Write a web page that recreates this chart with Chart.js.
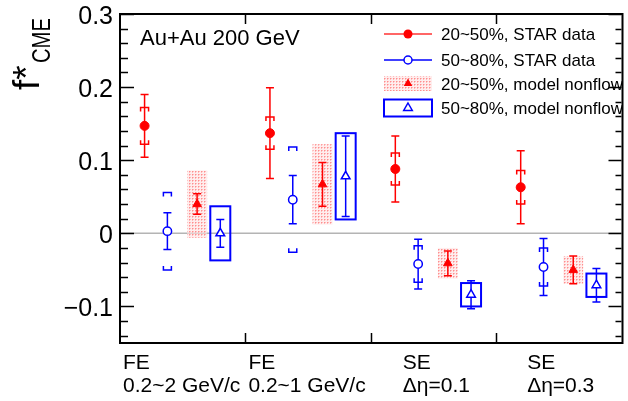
<!DOCTYPE html>
<html>
<head>
<meta charset="utf-8">
<script src="https://cdn.jsdelivr.net/npm/chart.js@4.4.1/dist/chart.umd.min.js"></script>
<style>
  html, body { margin: 0; padding: 0; background: #fff; }
  canvas { display: block; }
</style>
</head>
<body>
<canvas id="chart" width="628" height="401"></canvas>
<script>
// Categories (two text lines each)
const catTop = ['FE', 'FE', 'SE', 'SE'];
const catBottom = ['0.2~2 GeV/c', '0.2~1 GeV/c', 'Δη=0.1', 'Δη=0.3'];

// 20~50%, STAR data (value, stat error, sys error)
const starMid = [0.147, 0.137, 0.088, 0.063];
const starMidStat = [0.043, 0.062, 0.045, 0.050];
const starMidSys = [0.025, 0.022, 0.022, 0.023];

// 50~80%, STAR data
const starPer = [0.003, 0.046, -0.042, -0.046];
const starPerStat = [0.025, 0.033, 0.034, 0.039];
const starPerSys = [0.053, 0.072, 0.025, 0.026];

// 20~50%, model nonflow
const modelMid = [0.040, 0.067, -0.041, -0.050];
const modelMidStat = [0.014, 0.030, 0.017, 0.019];
const modelMidSys = [0.046, 0.055, 0.021, 0.019];

// 50~80%, model nonflow
const modelPer = [0.000, 0.078, -0.084, -0.071];
const modelPerStat = [0.019, 0.055, 0.019, 0.023];
const modelPerSys = [0.037, 0.059, 0.016, 0.016];

const yTicks = [-0.1, 0, 0.1, 0.2, 0.3];
const yTickLabels = ['−0.1', '0', '0.1', '0.2', '0.3'];
const legendLabels = ['20~50%, STAR data', '50~80%, STAR data', '20~50%, model nonflow', '50~80%, model nonflow'];

// where each series sits inside its category slot
const slot = [0.196, 0.378, 0.615, 0.8];
const labelShift = [3, 3, 32, 31];

const RED = '#ff0000';
const BLUE = '#0000ff';
const FONT = '"Liberation Sans", Arial, sans-serif';

function toPoints(vals, k) {
  return vals.map((v, i) => ({ x: i + slot[k], y: v }));
}

// dotted pink fill like ROOT's fill style
function pinkPattern(ctx) {
  const c = document.createElement('canvas');
  c.width = 3; c.height = 3;
  const g = c.getContext('2d');
  g.fillStyle = 'rgba(255,225,225,0.6)';
  g.fillRect(0, 0, 3, 3);
  g.fillStyle = 'rgba(255,110,110,0.75)';
  g.fillRect(0, 0, 1, 1);
  g.fillStyle = 'rgba(255,170,170,0.7)';
  g.fillRect(0, 1, 1, 1);
  g.fillRect(1, 0, 1, 1);
  return ctx.createPattern(c, 'repeat');
}

function statBar(ctx, x, y1, y2, color) {
  ctx.strokeStyle = color;
  ctx.lineWidth = 1.5;
  ctx.beginPath();
  ctx.moveTo(x, y1); ctx.lineTo(x, y2);
  ctx.moveTo(x - 4, y1); ctx.lineTo(x + 4, y1);
  ctx.moveTo(x - 4, y2); ctx.lineTo(x + 4, y2);
  ctx.stroke();
}

function sysBrackets(ctx, x, yTop, yBot, color) {
  ctx.strokeStyle = color;
  ctx.lineWidth = 1.5;
  ctx.beginPath();
  ctx.moveTo(x - 4, yTop + 4); ctx.lineTo(x - 4, yTop); ctx.lineTo(x + 4, yTop); ctx.lineTo(x + 4, yTop + 4);
  ctx.moveTo(x - 4, yBot - 4); ctx.lineTo(x - 4, yBot); ctx.lineTo(x + 4, yBot); ctx.lineTo(x + 4, yBot - 4);
  ctx.stroke();
}

// zero line, sys boxes and error bars go under the markers
const errorPlugin = {
  id: 'errors',
  beforeDatasetsDraw(chart) {
    const ctx = chart.ctx;
    const xs = chart.scales.x, ys = chart.scales.y;
    const a = chart.chartArea;
    ctx.save();
    ctx.strokeStyle = '#b4b4b4';
    ctx.lineWidth = 1.5;
    ctx.beginPath();
    ctx.moveTo(a.left, ys.getPixelForValue(0));
    ctx.lineTo(a.right, ys.getPixelForValue(0));
    ctx.stroke();

    const pat = pinkPattern(ctx);
    for (let i = 0; i < catTop.length; i++) {
      // model boxes
      let x = xs.getPixelForValue(i + slot[2]);
      let t = ys.getPixelForValue(modelMid[i] + modelMidSys[i]);
      let b = ys.getPixelForValue(modelMid[i] - modelMidSys[i]);
      ctx.fillStyle = pat;
      ctx.fillRect(x - 10, t, 20, b - t);

      x = xs.getPixelForValue(i + slot[3]);
      t = ys.getPixelForValue(modelPer[i] + modelPerSys[i]);
      b = ys.getPixelForValue(modelPer[i] - modelPerSys[i]);
      ctx.strokeStyle = BLUE;
      ctx.lineWidth = 2;
      ctx.strokeRect(x - 10, t, 20, b - t);

      // STAR data
      x = xs.getPixelForValue(i + slot[0]);
      statBar(ctx, x, ys.getPixelForValue(starMid[i] + starMidStat[i]), ys.getPixelForValue(starMid[i] - starMidStat[i]), RED);
      sysBrackets(ctx, x, ys.getPixelForValue(starMid[i] + starMidSys[i]), ys.getPixelForValue(starMid[i] - starMidSys[i]), RED);

      x = xs.getPixelForValue(i + slot[1]);
      statBar(ctx, x, ys.getPixelForValue(starPer[i] + starPerStat[i]), ys.getPixelForValue(starPer[i] - starPerStat[i]), BLUE);
      sysBrackets(ctx, x, ys.getPixelForValue(starPer[i] + starPerSys[i]), ys.getPixelForValue(starPer[i] - starPerSys[i]), BLUE);

      x = xs.getPixelForValue(i + slot[2]);
      statBar(ctx, x, ys.getPixelForValue(modelMid[i] + modelMidStat[i]), ys.getPixelForValue(modelMid[i] - modelMidStat[i]), RED);

      x = xs.getPixelForValue(i + slot[3]);
      statBar(ctx, x, ys.getPixelForValue(modelPer[i] + modelPerStat[i]), ys.getPixelForValue(modelPer[i] - modelPerStat[i]), BLUE);
    }
    ctx.restore();
  }
};

// frame, ticks, labels, title and legend drawn by hand (ROOT look)
const framePlugin = {
  id: 'frame',
  afterDraw(chart) {
    const ctx = chart.ctx;
    const xs = chart.scales.x, ys = chart.scales.y;
    const a = chart.chartArea;
    ctx.save();

    // y ticks, every 0.02
    ctx.strokeStyle = '#000';
    ctx.lineWidth = 1.5;
    ctx.beginPath();
    for (let k = -7; k <= 15; k++) {
      const y = Math.round(ys.getPixelForValue(k * 0.02)) + 0.5;
      const len = k % 5 === 0 ? 14 : 8;
      ctx.moveTo(a.left, y); ctx.lineTo(a.left + len, y);
      ctx.moveTo(a.right, y); ctx.lineTo(a.right - (k % 5 === 0 ? 13 : 6), y);
    }
    // x ticks at category borders
    for (let i = 1; i < catTop.length; i++) {
      const x = Math.round(xs.getPixelForValue(i)) + 0.5;
      ctx.moveTo(x, a.bottom); ctx.lineTo(x, a.bottom - 10);
      ctx.moveTo(x, a.top); ctx.lineTo(x, a.top + 10);
    }
    ctx.stroke();

    // frame
    ctx.lineWidth = 2;
    ctx.strokeRect(a.left, a.top, a.right + 1 - a.left, a.bottom - a.top);

    // y tick labels
    ctx.fillStyle = '#000';
    ctx.font = '25px ' + FONT;
    ctx.textAlign = 'right';
    ctx.textBaseline = 'alphabetic';
    yTicks.forEach((v, i) => {
      ctx.fillText(yTickLabels[i], 113, ys.getPixelForValue(v) + 9.5);
    });

    // category labels
    ctx.font = '21px ' + FONT;
    ctx.textAlign = 'left';
    for (let i = 0; i < catTop.length; i++) {
      const x = xs.getPixelForValue(i) + labelShift[i];
      ctx.fillText(catTop[i], x, 369);
      ctx.fillText(catBottom[i], x, 392);
    }

    // y title f*_CME
    ctx.save();
    ctx.translate(39, 90);
    ctx.rotate(-Math.PI / 2);
    ctx.font = '37px ' + FONT;
    ctx.fillText('f*', 0, 0);
    ctx.translate(27, 11);
    ctx.scale(0.81, 1);
    ctx.font = '25px ' + FONT;
    ctx.fillText('CME', 0, 0);
    ctx.restore();

    // system label
    ctx.font = '22px ' + FONT;
    ctx.fillText('Au+Au 200 GeV', 140, 45);

    // legend
    const rows = [34, 60, 83.5, 108];
    const lx0 = 384, lx1 = 432, mx = 408;
    ctx.lineWidth = 2;
    ctx.strokeStyle = 'rgba(255,0,0,0.6)';
    ctx.beginPath(); ctx.moveTo(lx0, rows[0]); ctx.lineTo(lx1, rows[0]); ctx.stroke();
    ctx.fillStyle = RED;
    ctx.beginPath(); ctx.arc(mx, rows[0], 4.5, 0, Math.PI * 2); ctx.fill();

    ctx.lineWidth = 1.5;
    ctx.strokeStyle = BLUE;
    ctx.beginPath(); ctx.moveTo(lx0, rows[1]); ctx.lineTo(lx1, rows[1]); ctx.stroke();
    ctx.fillStyle = '#fff';
    ctx.beginPath(); ctx.arc(mx, rows[1], 4, 0, Math.PI * 2); ctx.fill(); ctx.stroke();

    ctx.fillStyle = pinkPattern(ctx);
    ctx.fillRect(lx0, rows[2] - 7.5, lx1 - lx0, 15);
    ctx.fillStyle = RED;
    ctx.beginPath();
    ctx.moveTo(mx, rows[2] - 5); ctx.lineTo(mx + 4.3, rows[2] + 2.5); ctx.lineTo(mx - 4.3, rows[2] + 2.5);
    ctx.closePath(); ctx.fill();

    ctx.lineWidth = 2;
    ctx.strokeStyle = BLUE;
    ctx.strokeRect(lx0, rows[3] - 8.5, lx1 - lx0, 17);
    ctx.lineWidth = 1.5;
    ctx.beginPath();
    ctx.moveTo(mx, rows[3] - 5); ctx.lineTo(mx + 4.3, rows[3] + 2.5); ctx.lineTo(mx - 4.3, rows[3] + 2.5);
    ctx.closePath(); ctx.stroke();

    ctx.fillStyle = '#000';
    ctx.font = '17px ' + FONT;
    legendLabels.forEach((t, i) => ctx.fillText(t, 441, rows[i] + 6));

    ctx.restore();
  }
};

const ctx = document.getElementById('chart').getContext('2d');
const chart = new Chart(ctx, {
  type: 'scatter',
  data: {
    datasets: [
      {
        label: legendLabels[0],
        data: toPoints(starMid, 0),
        pointStyle: 'circle',
        pointRadius: 4.5,
        backgroundColor: RED,
        borderColor: RED,
        borderWidth: 1
      },
      {
        label: legendLabels[1],
        data: toPoints(starPer, 1),
        pointStyle: 'circle',
        pointRadius: 4.2,
        backgroundColor: '#fff',
        borderColor: BLUE,
        borderWidth: 1.5
      },
      {
        label: legendLabels[2],
        data: toPoints(modelMid, 2),
        pointStyle: 'triangle',
        pointRadius: 5,
        backgroundColor: RED,
        borderColor: RED,
        borderWidth: 1
      },
      {
        label: legendLabels[3],
        data: toPoints(modelPer, 3),
        pointStyle: 'triangle',
        pointRadius: 5,
        backgroundColor: '#fff',
        borderColor: BLUE,
        borderWidth: 1.5
      }
    ]
  },
  options: {
    responsive: false,
    animation: false,
    layout: { padding: { left: 120, right: 0, top: 14, bottom: 58 } },
    scales: {
      x: { type: 'linear', min: 0, max: 4, display: false },
      y: { type: 'linear', min: -0.15, max: 0.3, display: false }
    },
    plugins: {
      legend: { display: false },
      tooltip: { enabled: false }
    }
  },
  plugins: [errorPlugin, framePlugin]
});
</script>
</body>
</html>
